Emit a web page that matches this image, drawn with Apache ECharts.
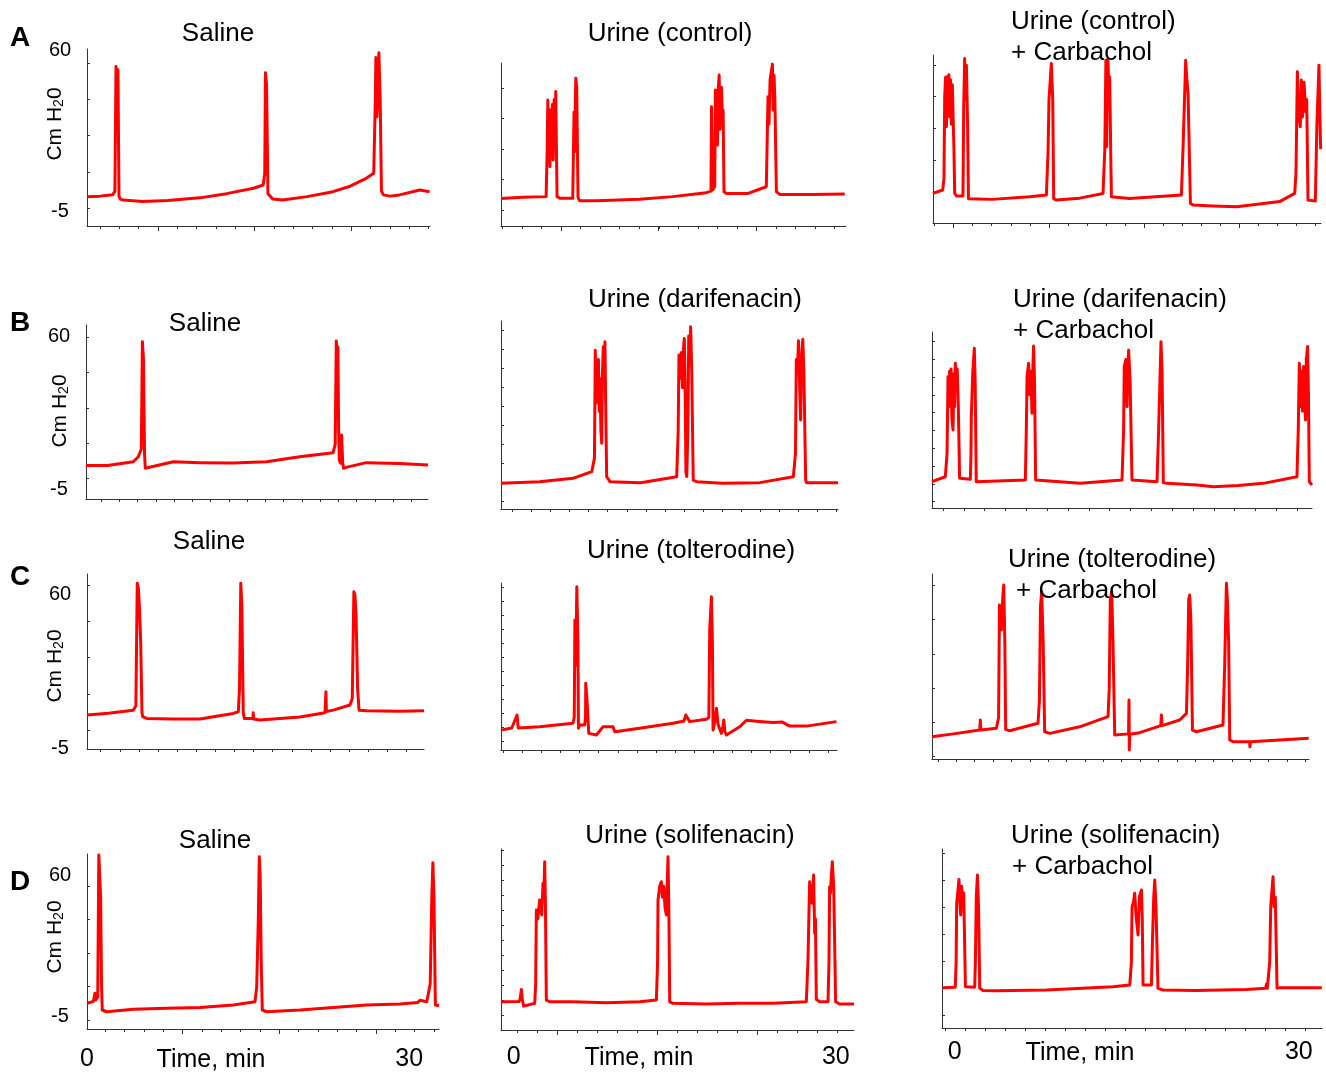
<!DOCTYPE html>
<html><head><meta charset="utf-8">
<script src="https://cdn.jsdelivr.net/npm/echarts@6/dist/echarts.min.js"></script>
<style>html,body{margin:0;padding:0;background:#fff}#c{width:1326px;height:1073px}</style>
</head><body><div id="c"></div>
<script>
// ---------- text ----------
const rowLetters = ['A', 'B', 'C', 'D'];
const titleLines = [
  ['Saline'], ['Urine (control)'], ['Urine (control)', '+ Carbachol'],
  ['Saline'], ['Urine (darifenacin)'], ['Urine (darifenacin)', '+ Carbachol'],
  ['Saline'], ['Urine (tolterodine)'], ['Urine (tolterodine)', '+ Carbachol'],
  ['Saline'], ['Urine (solifenacin)'], ['Urine (solifenacin)', '+ Carbachol']
];
const yTickLabels = [-5, 60];
const xTickLabels = [0, 30];
const xAxisTitle = 'Time, min';

// ---------- data: [time (min), pressure (cm H2O)] ----------
const traceA1 = [[0,0.7],[1.2,1.0],[2.4,1.6],[2.6,3],[2.7,53.3],[2.8,50],[2.88,52],[2.98,1],[3.1,-0.2],[3.35,-0.6],[5.2,-1.2],[7.5,-0.8],[10.5,0.3],[13,2.0],[15.5,4.2],[16.4,5.5],[16.55,10],[16.62,50.8],[16.72,46],[16.85,2],[17.3,-0.2],[18.2,-0.6],[20.5,0.8],[22.9,2.8],[24.5,5],[26.0,8.2],[26.7,10.2],[26.85,40],[26.9,57.0],[27.0,33],[27.1,45],[27.18,58.9],[27.3,40],[27.42,3],[27.6,1.5],[28.2,1.0],[29.1,1.5],[31.0,3.5],[31.9,2.8]];
const traceA2 = [[0,0.0],[2,0.5],[4.2,0.8],[4.3,20],[4.36,39.8],[4.42,25],[4.5,36],[4.56,12.9],[4.62,30],[4.7,22.5],[4.78,38],[4.86,15.6],[4.95,40],[5.02,25],[5.1,43.2],[5.16,20],[5.22,0.8],[5.5,0.1],[6.68,0.1],[6.8,35],[6.86,18.9],[6.96,48.6],[7.05,45],[7.17,0.5],[7.33,-0.9],[8.9,-0.9],[12.9,-0.3],[16.0,0.8],[19.1,2.4],[19.55,3],[19.6,37.1],[19.7,3.5],[19.9,5],[19.96,43.8],[20.05,30],[20.15,21.6],[20.24,45],[20.31,49.9],[20.4,28],[20.53,45],[20.62,30],[20.68,35.8],[20.76,2.8],[21,2.1],[23,2.1],[24.7,4.8],[24.86,41.1],[24.95,30],[25.05,48],[25.27,54.3],[25.33,35.8],[25.42,49.9],[25.5,40],[25.64,2.8],[25.95,1.7],[29,1.7],[32,1.9]];
const traceA3 = [[0,2.1],[0.9,3.5],[1.02,8],[1.09,41.1],[1.17,49],[1.25,29],[1.33,49.2],[1.4,35],[1.48,50],[1.55,33],[1.63,48],[1.71,30],[1.8,46],[1.95,20],[2.02,2.1],[2.2,1.05],[2.79,1.05],[2.86,37.1],[2.95,56.6],[3.03,40],[3.11,53.9],[3.22,30],[3.3,0],[3.42,-0.3],[5.5,-0.3],[9.0,0.8],[10.56,1.5],[10.72,20],[10.8,39.8],[11.02,54.6],[11.15,40],[11.24,0],[11.49,-0.6],[13.66,0.2],[15.83,2.1],[16.0,20],[16.1,55.9],[16.17,21],[16.24,50],[16.29,56.6],[16.4,40],[16.45,49.2],[16.61,0.8],[16.76,0.1],[18.3,0.1],[23.13,1.5],[23.28,20],[23.53,55.9],[23.6,50.6],[23.75,42.5],[23.97,-1.9],[24.21,-2.6],[26.0,-3.0],[28.3,-3.3],[32.28,-1.2],[33.68,2.1],[33.8,10],[33.93,51.2],[34.05,35],[34.2,29],[34.3,47.9],[34.4,33],[34.55,47],[34.7,35],[34.8,40],[34.92,-0.6],[35.07,-1.2],[35.6,-1.0],[35.75,30],[35.94,53.9],[36.02,35],[36.1,20]];
const traceB1 = [[0,5.0],[2,5.0],[4.4,6.6],[4.87,8.7],[5.15,12],[5.25,57.6],[5.35,50],[5.45,10],[5.52,3.8],[5.65,4.5],[8.13,6.6],[10.6,6.2],[13.7,6.0],[16.8,6.6],[19.9,8.7],[23.0,10.4],[23.2,14],[23.3,57.9],[23.38,52],[23.45,55.5],[23.52,20],[23.58,7.3],[23.72,6],[23.8,17.9],[23.9,6],[23.98,3.8],[24.3,4.3],[26.1,6.2],[29.2,5.8],[31.84,5.2]];
const traceB2 = [[0,-2.6],[3.6,-1.9],[6.7,-0.45],[8.45,2.4],[8.7,8],[8.78,54.0],[8.85,31.4],[8.92,48],[9.0,33],[9.07,50],[9.15,28],[9.22,42],[9.3,20],[9.38,14.4],[9.45,45],[9.53,55.5],[9.6,40],[9.68,57.6],[9.75,30],[9.84,0.2],[10.15,-1.9],[13,-2.3],[16.36,0.2],[16.5,20],[16.57,51.9],[16.7,42],[16.8,53],[16.9,38],[17.0,55],[17.07,59],[17.14,40],[17.22,2],[17.3,0.3],[17.4,20],[17.48,60],[17.58,50],[17.66,64],[17.76,45],[17.9,-1.2],[18.22,-1.9],[20.6,-2.6],[24.1,-2.3],[27.22,0.2],[27.42,10],[27.5,50],[27.6,45],[27.7,58],[27.8,40],[27.9,24.3],[27.98,50],[28.1,58.6],[28.2,45],[28.37,-1.2],[28.46,-2.3],[31.38,-2.3]];
const traceB3 = [[0,-1.9],[1.24,0.2],[1.4,10],[1.49,42.7],[1.57,30],[1.64,45],[1.7,35],[1.78,46],[1.85,25],[1.96,20.1],[2.03,44],[2.1,30],[2.17,48.4],[2.26,40],[2.35,46],[2.45,30],[2.57,-0.45],[2.64,-0.9],[3.57,-0.9],[3.63,10],[3.66,25.7],[3.8,45],[3.94,54.8],[4.02,40],[4.12,-1.9],[4.19,-2.3],[8.69,-1.2],[8.78,20],[8.85,42.7],[8.99,48.4],[9.1,35],[9.2,45],[9.31,27.2],[9.4,48],[9.46,55.7],[9.55,40],[9.65,-1.2],[9.78,-2.0],[13.8,-2.6],[17.69,-1.2],[17.84,20],[17.9,47],[18.05,50],[18.16,30],[18.25,48],[18.31,54.0],[18.45,40],[18.62,-1.2],[18.77,-1.9],[20.95,-1.9],[21.1,20],[21.32,57.6],[21.42,45],[21.54,-2.3],[21.86,-2.6],[24.67,-3.3],[26.2,-4.0],[28.5,-3.5],[30.85,-2.6],[33.98,0.2],[34.1,20],[34.2,48.4],[34.3,30],[34.4,45],[34.5,28],[34.6,47],[34.7,35],[34.78,24.3],[34.85,50],[34.97,55.5],[35.05,35],[35.13,-1.9],[35.38,-3.3]];
const traceC1 = [[0,9.0],[2,9.8],[4.31,11.1],[4.55,13],[4.68,65],[4.78,63],[4.88,55],[5.0,40],[5.12,10],[5.19,8.3],[5.56,7.6],[8,7.3],[10.52,7.3],[13.62,9.7],[14.09,10.4],[14.2,20],[14.32,65],[14.42,55],[14.55,10],[14.65,7.6],[15.45,7.5],[15.48,10],[15.52,7.3],[16.1,6.9],[19.83,8.2],[22.16,10.0],[22.22,10.5],[22.25,18.9],[22.29,10.5],[22.93,11.1],[24.49,13.3],[24.7,16],[24.85,61.4],[24.95,60],[25.05,52],[25.2,20],[25.33,11.1],[26.04,10.8],[29.14,10.6],[31.38,10.8]];
const traceC2 = [[0,2.6],[1.0,3.5],[1.5,9.0],[1.6,3.5],[3.6,4.0],[6.7,5.5],[6.82,8],[6.88,49.4],[6.95,30],[7.06,63.5],[7.16,40],[7.21,3.4],[7.33,4.8],[7.79,4.8],[7.87,8],[7.89,22.5],[8.0,16],[8.04,12.5],[8.17,1.2],[8.26,0.5],[8.88,0.5],[9.5,4.0],[10.43,4.0],[10.6,1.9],[12.91,3.4],[16.01,5.5],[17.05,6.5],[17.2,9.0],[17.57,6.2],[19.12,7.2],[19.35,8],[19.43,45.1],[19.59,59.3],[19.68,40],[19.74,2.6],[19.9,6],[20.06,11.9],[20.21,5],[20.52,1.2],[20.65,4],[20.74,6.9],[20.85,2],[20.99,0.5],[22.22,4.0],[22.85,6.8],[24,6.3],[25.33,5.8],[26.2,6.0],[26.88,4.3],[28.44,4.3],[31.23,6.2]];
const traceC3 = [[0,-0.2],[2,1.0],[4.44,2.6],[4.5,6.9],[4.55,2.6],[6.0,3.4],[6.2,8],[6.28,55.7],[6.4,48],[6.46,45.1],[6.6,60],[6.68,64.2],[6.78,40],[6.86,2.9],[7.23,2.3],[9.87,5.5],[10.0,15],[10.1,55],[10.21,61.4],[10.35,40],[10.49,1.9],[10.96,1.2],[13.75,4.0],[16.39,8.3],[16.5,20],[16.6,58],[16.73,61.4],[16.85,40],[17.01,0.5],[17.17,0.5],[18.3,1.0],[18.34,15.4],[18.37,-5.8],[18.42,0.8],[19.34,1.5],[21.3,4.5],[21.36,9.0],[21.42,4.5],[23.06,6.9],[23.69,9.7],[23.8,30],[23.9,58],[23.99,60.0],[24.1,50],[24.25,2.6],[24.62,1.9],[27.09,4.8],[27.25,30],[27.41,65.0],[27.5,58],[27.62,40],[27.72,-1.6],[28.03,-2.3],[29.58,-2.3],[29.6,-4.5],[29.65,-2.3],[32.37,-1.6],[35.07,-0.9]];
const traceD1 = [[0,1.1],[0.6,2.0],[0.74,5.7],[0.8,2.6],[1.0,4],[1.1,69.4],[1.2,69],[1.27,50],[1.35,10],[1.42,-2.0],[1.83,-2.8],[4.31,-1.7],[7.42,-1.2],[10.52,-0.8],[13.62,0.3],[15.64,1.8],[15.8,8.7],[15.95,40],[16.04,68.6],[16.12,60],[16.22,20],[16.32,-2.0],[16.73,-2.8],[19.83,-2.0],[22.93,-0.8],[26.04,0.3],[29.14,0.8],[30.8,1.5],[31.0,2.5],[31.63,1.8],[31.95,10],[32.1,50],[32.2,65.9],[32.3,50],[32.43,0.3],[32.77,0.0]];
const traceD2 = [[-1.15,1.8],[0.5,1.9],[0.6,3],[0.72,7.5],[0.8,3],[0.93,-0.2],[1.96,1.1],[2.05,10],[2.11,44.1],[2.25,40],[2.42,48.7],[2.55,46],[2.61,41.8],[2.73,56.4],[2.8,50],[2.89,66.3],[2.96,45],[3.04,2.6],[3.35,1.8],[5.52,1.8],[8.63,1.4],[11.73,1.8],[13.29,2.6],[13.4,20],[13.44,48.7],[13.6,55],[13.75,57.1],[13.85,50],[13.97,55],[14.1,45],[14.22,41.8],[14.37,68.6],[14.45,45],[14.53,1.8],[14.83,1.1],[17.94,0.8],[21.04,1.1],[24.15,1.1],[27.25,1.8],[27.4,20],[27.56,57.1],[27.7,52],[27.8,47.2],[27.93,60.2],[28.03,33.3],[28.1,40],[28.18,2.9],[28.49,1.8],[29.27,1.8],[29.36,20],[29.42,54.8],[29.5,51.8],[29.58,60],[29.67,66.3],[29.8,55],[29.98,1.8],[30.35,0.8],[31.69,0.8]];
const traceD3 = [[-1.07,8.3],[0.05,8.5],[0.12,20],[0.17,47.2],[0.26,52],[0.37,58.2],[0.45,48],[0.52,41.8],[0.6,55],[0.68,50],[0.78,52],[0.86,30],[0.93,8.7],[1.02,8.5],[1.74,8.5],[1.8,20],[1.88,50.2],[1.98,60.2],[2.08,45],[2.18,8.0],[2.47,7.0],[3.64,6.9],[7.99,7.2],[13.8,8.7],[15.26,9.5],[15.4,20],[15.46,45.6],[15.6,48],[15.69,51.8],[15.8,42],[15.98,32.6],[16.1,50],[16.2,52],[16.28,53.3],[16.35,40],[16.42,9.5],[16.56,9.5],[17.15,9.5],[17.24,30],[17.35,50],[17.44,57.9],[17.55,45],[17.72,8.0],[18.16,7.2],[21,7.0],[25.43,7.5],[27.1,8],[27.18,10],[27.25,8],[27.46,20],[27.55,45.6],[27.75,59.4],[27.84,45.6],[27.95,50],[28.1,8.0],[28.33,8.3],[32.0,8.3]];
const traces = [traceA1, traceA2, traceA3, traceB1, traceB2, traceB3, traceC1, traceC2, traceC3, traceD1, traceD2, traceD3];

// ---------- layout (pixel boxes, axis extents, tick spacing) ----------
const layout = [
  {box:[87,49,343,177],  x:[0,31.94],     y:[-11.06,60.4], xt:[1.21,1.8],  xm:[6.61,9.0],  yt:[-3.9,14.66]},
  {box:[501,63,345,163], x:[0,32.12],     y:[-11.06,54.75],xt:[0.13,1.82], xm:[5.62,9.06], yt:[-4.6,12.3]},
  {box:[933,55,388,168], x:[0,36.13],     y:[-9.84,58.0],  xt:[0.16,1.77], xm:[1.93,8.85], yt:[2.8,12.8]},
  {box:[86,325,342,174], x:[0,31.84],     y:[-9.25,64.7],  xt:[1.4,1.7],   yt:[-0.45,14.97]},
  {box:[501,321,337,188],x:[0,31.38],     y:[-13.5,66.4],  xt:[1.09,1.77], yt:[-10.4,8.1]},
  {box:[932,332,380,176],x:[0,35.38],     y:[-13.07,61.7], xt:[1.02,1.94], yt:[-10.4,7.56]},
  {box:[87,574,337,175], x:[0,31.38],     y:[-5.4,68.9],   xt:[1.27,1.78], yt:[2.65,15.4]},
  {box:[501,583,336,167],x:[0,31.28],     y:[-5.85,65.1],  xt:[0.19,1.78], yt:[-2.3,5.95]},
  {box:[932,574,377,185],x:[0,35.1],      y:[-9.67,68.9],  xt:[0.56,1.71], yt:[-8.7,14.57]},
  {box:[87,854,352,175], x:[0,32.77],     y:[-10.76,69.9], xt:[1.71,1.8],  xm:[8.91,9.0],  yt:[-6.6,15.4],  xlab:18},
  {box:[501,849,353,181],x:[-1.18,31.69], y:[-11.2,72.2],  xt:[0.34,1.86], xm:[4.03,9.31], yt:[-4.3,6.9],   xlab:15},
  {box:[942,849,380,179],x:[-1.11,32.02], y:[-10.3,72.2],  xt:[-0.81,1.744],yt:[-4.3,12.4], xlab:12}
];
// title anchor positions: [x, y, align] per line
const titlePos = [
  [[218,34,'center']], [[670,34,'center']], [[1011,22,'left'],[1011,53,'left']],
  [[205,324,'center']], [[695,300,'center']], [[1013,300,'left'],[1013,331,'left']],
  [[209,542,'center']], [[691,551,'center']], [[1008,560,'left'],[1016,591,'left']],
  [[215,841,'center']], [[690,836,'center']], [[1011,836,'left'],[1012,867,'left']]
];
const letterPos = [[20,38],[20,323],[20,577],[20,882]];
const yNamePos = [[55,124],[60,411],[55,666],[55,937]];
const timePos = [[211,1060],[639,1058],[1080,1053]];

const FONT = '"Liberation Sans", Arial, Helvetica, sans-serif';
const RED = '#ff0000';
const AXIS = '#333333';

function tickList(min, max, start, step) {
  const out = [];
  for (let v = start; v <= max + 1e-6; v += step) if (v >= min - 1e-6) out.push(+v.toFixed(3));
  for (let v = start - step; v >= min - 1e-6; v -= step) out.push(+v.toFixed(3));
  return out.sort((a, b) => a - b);
}

const grid = [], xAxis = [], yAxis = [], series = [], graphic = [], extraX = [];
layout.forEach((p, i) => {
  grid.push({left: p.box[0], top: p.box[1], width: p.box[2], height: p.box[3], containLabel: false});
  xAxis.push({
    type: 'value', gridIndex: i, min: p.x[0], max: p.x[1],
    axisLine: {show: true, onZero: false, lineStyle: {color: AXIS, width: 1}},
    axisTick: {show: true, inside: false, length: 3, customValues: tickList(p.x[0], p.x[1], p.xt[0], p.xt[1]), lineStyle: {color: AXIS, width: 1}},
    axisLabel: p.xlab ? {show: true, customValues: xTickLabels, formatter: v => String(v), fontSize: 25, fontFamily: FONT, color: '#000', margin: p.xlab} : {show: false},
    splitLine: {show: false}
  });
  if (p.xm) {
    extraX.push({
      type: 'value', gridIndex: i, min: p.x[0], max: p.x[1], position: 'bottom',
      axisLine: {show: false, onZero: false},
      axisTick: {show: true, inside: false, length: 5, customValues: tickList(p.x[0], p.x[1], p.xm[0], p.xm[1]), lineStyle: {color: AXIS, width: 1}},
      axisLabel: {show: false}, splitLine: {show: false}
    });
  }
  const firstCol = i % 3 === 0;
  yAxis.push({
    type: 'value', gridIndex: i, min: p.y[0], max: p.y[1],
    axisLine: {show: true, onZero: false, lineStyle: {color: AXIS, width: 1}},
    axisTick: {show: true, inside: true, length: 3, customValues: tickList(p.y[0], p.y[1], p.yt[0], p.yt[1]), lineStyle: {color: AXIS, width: 1}},
    axisLabel: firstCol ? {show: true, customValues: yTickLabels, formatter: v => String(v), fontSize: 20, fontFamily: FONT, color: '#000', align: 'center', margin: 27} : {show: false},
    splitLine: {show: false}
  });
  series.push({
    type: 'line', xAxisIndex: i, yAxisIndex: i, data: traces[i],
    showSymbol: false, symbol: 'none', silent: true, clip: false,
    lineStyle: {color: RED, width: 3, join: 'round'}
  });
  titleLines[i].forEach((t, k) => {
    const pos = titlePos[i][k];
    graphic.push({type: 'text', x: pos[0], y: pos[1], z: 100,
      style: {text: t, fill: '#000', fontSize: 26, fontFamily: FONT, align: pos[2], verticalAlign: 'middle'}});
  });
});
rowLetters.forEach((L, r) => {
  graphic.push({type: 'text', x: letterPos[r][0], y: letterPos[r][1], z: 100,
    style: {text: L, fill: '#000', fontSize: 28, fontWeight: 'bold', fontFamily: FONT, align: 'center', verticalAlign: 'middle'}});
  graphic.push({type: 'text', x: yNamePos[r][0], y: yNamePos[r][1], rotation: Math.PI / 2, z: 100,
    style: {text: 'Cm H{s|2}0', fill: '#000', fontSize: 21, fontFamily: FONT, align: 'center', verticalAlign: 'middle',
      rich: {s: {fontSize: 14, fontFamily: FONT, fill: '#000', verticalAlign: 'bottom', padding: [8, 0, 0, 0]}}}});
});
timePos.forEach(p => {
  graphic.push({type: 'text', x: p[0], y: p[1], z: 100,
    style: {text: xAxisTitle, fill: '#000', fontSize: 25, fontFamily: FONT, align: 'center', verticalAlign: 'middle'}});
});

const chart = echarts.init(document.getElementById('c'), null, {renderer: 'canvas'});
chart.setOption({
  backgroundColor: '#ffffff',
  animation: false,
  grid, xAxis: xAxis.concat(extraX), yAxis, series, graphic
});
</script>
</body></html>
